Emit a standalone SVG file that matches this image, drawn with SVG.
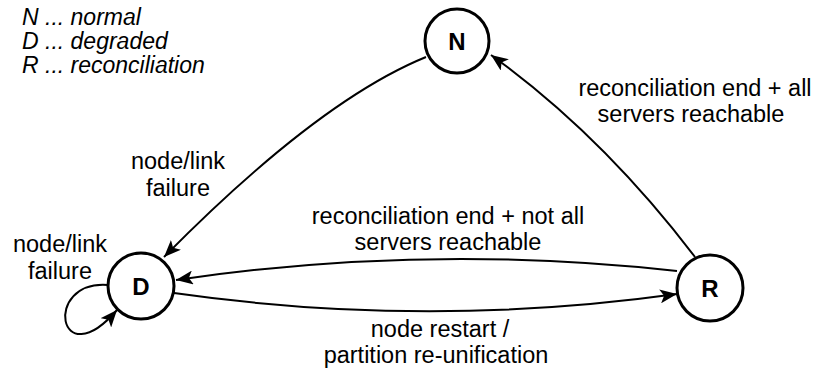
<svg xmlns="http://www.w3.org/2000/svg" width="821" height="370" viewBox="0 0 821 370">
  <style>
    .state { fill: #ffffff; stroke: #000000; stroke-width: 3; }
    .state-label { font-family: "Liberation Sans", Arial, sans-serif; font-size: 24px; font-weight: bold; text-anchor: middle; fill: #000000; }
    .edge { fill: none; stroke: #000000; stroke-width: 2; }
    .edge-label { font-family: "Liberation Sans", Arial, sans-serif; font-size: 23.5px; text-anchor: middle; fill: #000000; }
    .legend { font-family: "Liberation Sans", Arial, sans-serif; font-size: 23px; font-style: italic; fill: #000000; }
  </style>
  <defs>
    <marker id="arrow" markerUnits="userSpaceOnUse" markerWidth="20" markerHeight="14" refX="17" refY="7" orient="auto">
      <path d="M0,0 L17,7 L0,14 L4,7 Z" fill="#000000"/>
    </marker>
  </defs>

  <!-- legend -->
  <g id="legend">
    <text class="legend" x="22" y="25">N ... normal</text>
    <text class="legend" x="22" y="49">D ... degraded</text>
    <text class="legend" x="22" y="73">R ... reconciliation</text>
  </g>

  <!-- transitions -->
  <g id="connectors">
    <path class="edge" d="M426,57 Q318,101 164,257" marker-end="url(#arrow)"/>
    <path class="edge" d="M695,257 Q602,135 491,55" marker-end="url(#arrow)"/>
    <path class="edge" d="M677,271 Q426,243 176,280" marker-end="url(#arrow)"/>
    <path class="edge" d="M174,293 Q426,329 677,294" marker-end="url(#arrow)"/>
    <path class="edge" d="M108,285 C42,280 58,378 117,310" marker-end="url(#arrow)"/>
  </g>

  <!-- transition labels -->
  <g id="labels">
    <text class="edge-label" x="178" y="169">node/link</text>
    <text class="edge-label" x="178" y="196">failure</text>
    <text class="edge-label" x="60" y="252">node/link</text>
    <text class="edge-label" x="60" y="279">failure</text>
    <text class="edge-label" x="695" y="96">reconciliation end + all</text>
    <text class="edge-label" x="691" y="122">servers reachable</text>
    <text class="edge-label" x="448" y="224">reconciliation end + not all</text>
    <text class="edge-label" x="448" y="250">servers reachable</text>
    <text class="edge-label" x="440" y="337">node restart /</text>
    <text class="edge-label" x="436" y="363">partition re-unification</text>
  </g>

  <!-- states -->
  <g id="node-N">
    <circle class="state" cx="457" cy="41" r="32"/>
    <text class="state-label" x="457" y="50">N</text>
  </g>
  <g id="node-D">
    <circle class="state" cx="141" cy="286" r="33"/>
    <text class="state-label" x="141" y="295">D</text>
  </g>
  <g id="node-R">
    <circle class="state" cx="710" cy="288" r="33"/>
    <text class="state-label" x="710" y="297">R</text>
  </g>
</svg>
